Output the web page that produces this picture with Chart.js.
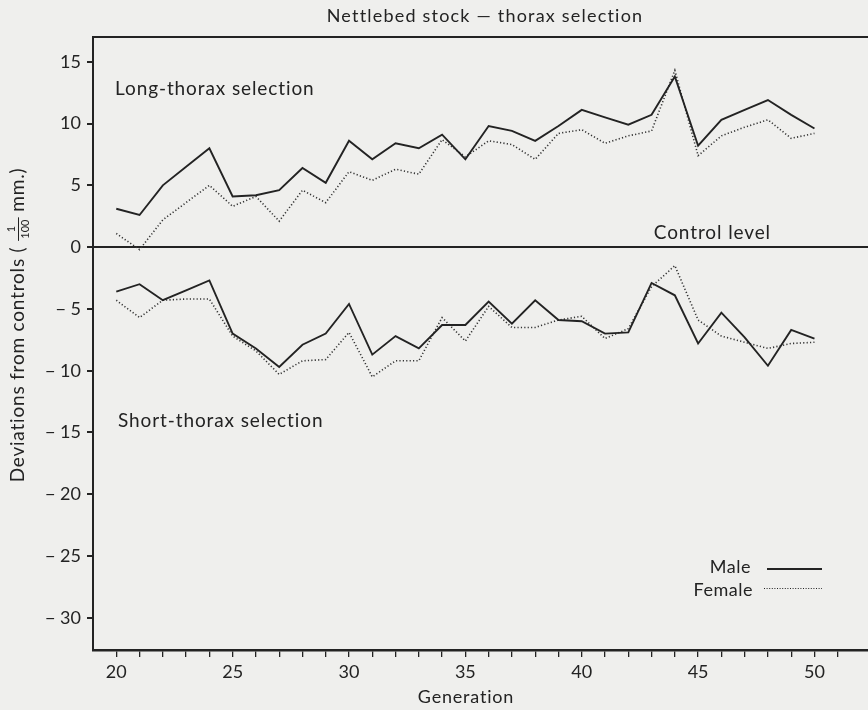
<!DOCTYPE html>
<html>
<head>
<meta charset="utf-8">
<script src="https://cdn.jsdelivr.net/npm/chart.js@4/dist/chart.umd.min.js"></script>
<style>
  html, body { margin: 0; padding: 0; background: #efefed; }
  #wrap { width: 868px; height: 710px; }
</style>
</head>
<body>
<div id="wrap"><canvas id="thorax" width="868" height="710"></canvas></div>
<script>
// generations 20..50
const generations = [20,21,22,23,24,25,26,27,28,29,30,31,32,33,34,35,36,37,38,39,40,41,42,43,44,45,46,47,48,49,50];

// long-thorax selection, deviations from controls (1/100 mm)
const longMale   = [3.1,2.6,5.0,6.5,8.0,4.1,4.2,4.6,6.4,5.2,8.6,7.1,8.4,8.0,9.1,7.1,9.8,9.4,8.6,9.8,11.1,10.5,9.9,10.7,13.8,8.2,10.3,11.1,11.9,10.7,9.6];
const longFemale = [1.1,-0.2,2.2,3.6,5.0,3.3,4.1,2.1,4.6,3.6,6.1,5.4,6.3,5.9,8.7,7.3,8.6,8.3,7.1,9.2,9.5,8.4,9.0,9.4,14.3,7.4,9.0,9.7,10.3,8.8,9.2];

// short-thorax selection
const shortMale   = [-3.6,-3.0,-4.3,-3.5,-2.7,-7.0,-8.2,-9.7,-7.9,-7.0,-4.6,-8.7,-7.2,-8.2,-6.3,-6.3,-4.4,-6.2,-4.3,-5.9,-6.0,-7.0,-6.9,-2.9,-3.9,-7.8,-5.3,-7.3,-9.6,-6.7,-7.4];
const shortFemale = [-4.3,-5.7,-4.3,-4.2,-4.2,-7.2,-8.4,-10.3,-9.2,-9.1,-6.9,-10.5,-9.2,-9.2,-5.7,-7.6,-4.8,-6.5,-6.5,-5.9,-5.6,-7.4,-6.6,-3.2,-1.5,-5.9,-7.2,-7.7,-8.2,-7.8,-7.7];

const yTicks = [-30,-25,-20,-15,-10,-5,0,5,10,15];
const xTicks = [20,21,22,23,24,25,26,27,28,29,30,31,32,33,34,35,36,37,38,39,40,41,42,43,44,45,46,47,48,49,50,51];

const ink = '#232323';
const font = 'Lato, "Open Sans", sans-serif';

function pts(vals) {
  return generations.map((g, i) => ({ x: g, y: vals[i] }));
}

const maleStyle = { borderColor: ink, borderWidth: 1.9, pointRadius: 0, tension: 0, fill: false };
const femaleStyle = { borderColor: '#333', borderWidth: 1.6, borderDash: [1.2, 2.2], pointRadius: 0, tension: 0, fill: false };

function text(c, s, x, y, size, align, spacing) {
  c.font = size + 'px ' + font;
  c.letterSpacing = (spacing || 0) + 'px';
  c.textAlign = align;
  c.fillText(s, x, y);
}

const annotations = {
  id: 'annotations',
  afterDraw(chart) {
    const c = chart.ctx;
    const area = chart.chartArea;
    c.save();
    // top frame line
    c.strokeStyle = ink;
    c.lineWidth = 2;
    c.beginPath();
    c.moveTo(area.left, area.top);
    c.lineTo(chart.width, area.top);
    c.stroke();

    c.fillStyle = ink;
    c.textBaseline = 'middle';
    text(c, 'Nettlebed stock \u2014 thorax selection', 485, 16, 18, 'center', 1.2);
    text(c, 'Long-thorax selection', 115, 89, 19, 'left', 0.9);
    text(c, 'Short-thorax selection', 118, 421, 19, 'left', 0.9);
    text(c, 'Control level', 771, 233, 19, 'right', 0.9);
    text(c, 'Generation', 466, 697, 18, 'center', 0.8);

    // legend
    text(c, 'Male', 751, 567, 18, 'right', 0.5);
    text(c, 'Female', 753, 590, 18, 'right', 0.5);
    c.lineWidth = 1.9;
    c.setLineDash([]);
    c.beginPath(); c.moveTo(767, 569); c.lineTo(822, 569); c.stroke();
    c.lineWidth = 1.2;
    c.setLineDash([1, 1.6]);
    c.beginPath(); c.moveTo(764, 588.5); c.lineTo(822, 588.5); c.stroke();
    c.setLineDash([]);

    // rotated y title with stacked fraction
    c.translate(18, 325);
    c.rotate(-Math.PI / 2);
    const a = 'Deviations from controls ( ';
    const b = ' mm.)';
    c.letterSpacing = '0.8px';
    c.font = '11px ' + font;
    const fw = c.measureText('100').width + 2;
    c.font = '19px ' + font;
    const total = c.measureText(a).width + fw + c.measureText(b).width;
    let x = -total / 2;
    text(c, a, x, 0, 19, 'left', 0.8);
    c.font = '19px ' + font;
    x += c.measureText(a).width;
    text(c, '1', x + fw / 2, -7, 11, 'center', 0);
    text(c, '100', x + fw / 2, 7, 11, 'center', 0);
    c.lineWidth = 1;
    c.beginPath(); c.moveTo(x, 0.5); c.lineTo(x + fw, 0.5); c.stroke();
    x += fw;
    text(c, b, x, 0, 19, 'left', 0.8);
    c.restore();
  }
};

new Chart(document.getElementById('thorax'), {
  type: 'line',
  data: {
    datasets: [
      Object.assign({ label: 'Male', data: pts(longMale) }, maleStyle),
      Object.assign({ label: 'Female', data: pts(longFemale) }, femaleStyle),
      Object.assign({ label: 'Male', data: pts(shortMale) }, maleStyle),
      Object.assign({ label: 'Female', data: pts(shortFemale) }, femaleStyle)
    ]
  },
  options: {
    responsive: false,
    animation: false,
    layout: { padding: { left: 0, right: 0, top: 37, bottom: 0 } },
    plugins: {
      legend: { display: false },
      tooltip: { enabled: false },
      title: { display: false }
    },
    scales: {
      x: {
        type: 'linear',
        min: 19.0,
        max: 52.3,
        afterBuildTicks: s => { s.ticks = xTicks.map(v => ({ value: v })); },
        afterFit: s => { s.height = 60; },
        border: { display: true, color: ink, width: 2.5 },
        grid: { drawOnChartArea: false, drawTicks: true, tickLength: 7, tickColor: ink, lineWidth: 1.3 },
        ticks: {
          autoSkip: false,
          maxRotation: 0,
          padding: 4,
          color: ink,
          font: { family: font, size: 18 },
          callback: v => (v % 5 === 0 && v <= 50) ? String(v) : ''
        }
      },
      y: {
        min: -32.6,
        max: 17,
        afterBuildTicks: s => { s.ticks = yTicks.map(v => ({ value: v })); },
        afterFit: s => { s.width = 93; },
        border: { display: true, color: ink, width: 2 },
        grid: {
          drawTicks: true,
          tickLength: 6,
          tickColor: ink,
          color: ctx => (ctx.tick && ctx.tick.value === 0) ? ink : 'rgba(0,0,0,0)',
          lineWidth: 2
        },
        ticks: {
          padding: 6,
          color: ink,
          font: { family: font, size: 18 },
          callback: v => v < 0 ? '\u2212 ' + Math.abs(v) : String(v)
        }
      }
    }
  },
  plugins: [annotations]
});
</script>
</body>
</html>
